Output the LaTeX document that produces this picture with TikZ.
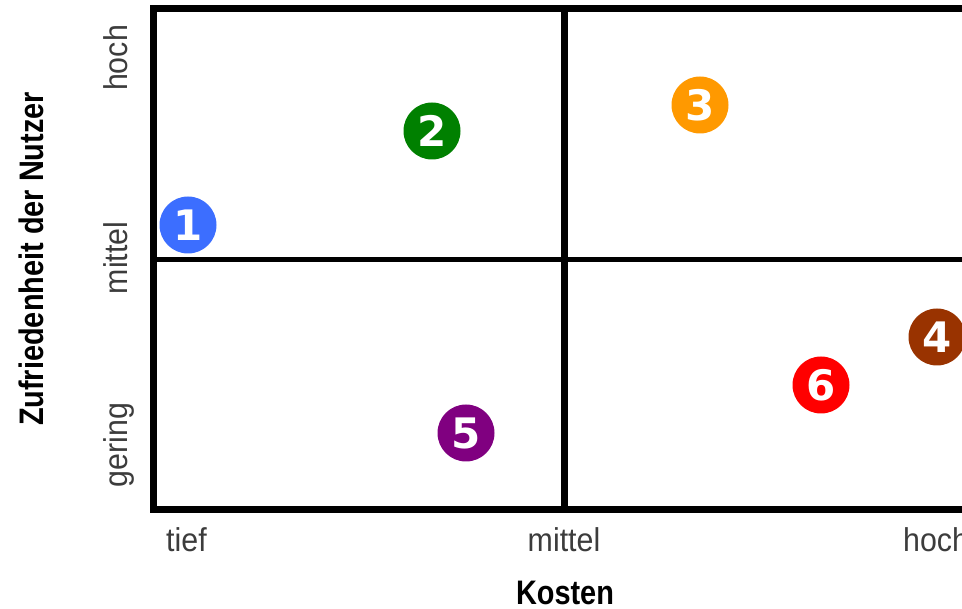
\documentclass[tikz,border=0pt]{standalone}
\usepackage{fontspec}
\setmainfont{Liberation Sans}
\newfontfamily\labfont[FakeStretch=0.92]{Liberation Sans}
\newfontfamily\titfont[FakeStretch=0.85]{Liberation Sans}
\newfontfamily\digfont{DejaVu Sans}
\definecolor{cblue}{RGB}{60,110,255}
\definecolor{cgreen}{RGB}{0,128,0}
\definecolor{corange}{RGB}{255,153,0}
\definecolor{cbrown}{RGB}{153,51,0}
\definecolor{cpurple}{RGB}{128,0,128}
\definecolor{cred}{RGB}{255,0,0}
\definecolor{labgray}{RGB}{60,60,60}
\tikzset{
  marker/.style={circle, fill=#1, minimum size=57pt, inner sep=0pt,
    text=white, font=\digfont\bfseries\fontsize{42}{42}\selectfont},
  ticklab/.style={inner sep=0pt, text=labgray, font=\labfont\fontsize{33}{40}\selectfont},
  axlab/.style={inner sep=0pt, text=black, font=\titfont\bfseries\fontsize{34}{40}\selectfont},
  frameline/.style={line width=7pt, black},
  midline/.style={line width=5pt, black}
}
\begin{document}
\begin{tikzpicture}[x=1pt,y=-1pt]
\useasboundingbox (0,0) rectangle (962,609);
% frame
\coordinate (tl) at (153,9);
\coordinate (br) at (975,509.5);
\coordinate (vt) at (564.5,9);
\coordinate (vb) at (564.5,509.5);
\coordinate (hl) at (153,260);
\coordinate (hr) at (975,260);
\draw[midline] (hl) -- (hr);
\draw[frameline] (vt) -- (vb);
\draw[frameline] (tl) rectangle (br);
% markers
\node[marker=cblue]   (m1) at (188,225) {1};
\node[marker=cgreen]  (m2) at (432,131) {2};
\node[marker=corange] (m3) at (700,105) {3};
\node[marker=cbrown]  (m4) at (937,337) {4};
\node[marker=cpurple] (m5) at (466,433) {5};
\node[marker=cred]    (m6) at (821,385) {6};
% x tick labels
\node[ticklab, anchor=base west] (xt) at (166,551) {tief};
\node[ticklab, anchor=base] (xm) at (564,551) {mittel};
\node[ticklab, anchor=base west] (xh) at (903,551) {hoch};
\node[axlab, anchor=base] (xl) at (565,604) {Kosten};
% y tick labels
\node[ticklab, rotate=90, anchor=base] (yh) at (127,58) {hoch};
\node[ticklab, rotate=90, anchor=base] (ym) at (127,258) {mittel};
\node[ticklab, rotate=90, anchor=base] (yg) at (127,445) {gering};
\node[axlab, rotate=90, anchor=base] (yl) at (43,259) {Zufriedenheit der Nutzer};
\end{tikzpicture}
\end{document}
